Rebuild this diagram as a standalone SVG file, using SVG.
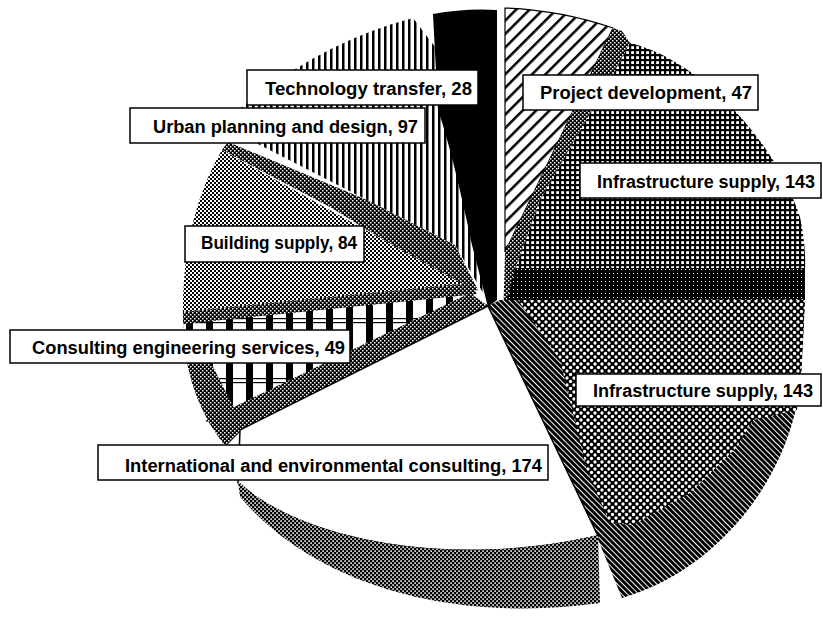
<svg xmlns="http://www.w3.org/2000/svg" width="823" height="617" viewBox="0 0 823 617">
<defs>
<pattern id="pHatch" width="9.5" height="9.5" patternUnits="userSpaceOnUse" patternTransform="rotate(45)"><rect width="9.5" height="9.5" fill="#fff"/><rect width="2.5" height="9.5" fill="#000"/></pattern>
<pattern id="pDots" width="4" height="4" patternUnits="userSpaceOnUse"><rect width="4" height="4" fill="#000"/><rect width="1.5" height="1.5" fill="#fff"/><rect x="2" y="2" width="1.5" height="1.5" fill="#fff"/></pattern>
<pattern id="pGrid" width="5" height="5" patternUnits="userSpaceOnUse"><rect width="5" height="5" fill="#000"/><rect x="1.2" y="1.2" width="2.8" height="2.8" fill="#fff"/></pattern>
<pattern id="pDense" width="4" height="4" patternUnits="userSpaceOnUse"><rect width="4" height="4" fill="#000"/><rect x="1" y="1" width="1" height="1" fill="#fff"/></pattern>
<pattern id="pPolka" width="7" height="7" patternUnits="userSpaceOnUse"><rect width="7" height="7" fill="#000"/><circle cx="0" cy="0" r="1.65" fill="#fff"/><circle cx="7" cy="0" r="1.65" fill="#fff"/><circle cx="0" cy="7" r="1.65" fill="#fff"/><circle cx="7" cy="7" r="1.65" fill="#fff"/><circle cx="3.5" cy="3.5" r="1.65" fill="#fff"/></pattern>
<pattern id="pStripe" width="4" height="4" patternUnits="userSpaceOnUse" patternTransform="rotate(-45)"><rect width="4" height="4" fill="#fff"/><rect width="3" height="4" fill="#000"/></pattern>
<pattern id="pLight" width="4" height="4" patternUnits="userSpaceOnUse"><rect width="4" height="4" fill="#fff"/><rect width="2" height="2" fill="#000"/><rect x="2" y="2" width="2" height="2" fill="#000"/></pattern>
<pattern id="pMid" width="4" height="4" patternUnits="userSpaceOnUse"><rect width="4" height="4" fill="#000"/><rect x="0.3" y="0.3" width="1.6" height="1.6" fill="#fff"/><rect x="2.3" y="2.3" width="1.6" height="1.6" fill="#fff"/></pattern>
<pattern id="pVert" width="6" height="6" patternUnits="userSpaceOnUse"><rect width="6" height="6" fill="#fff"/><rect width="2.5" height="6" fill="#000"/></pattern>
<pattern id="pBars" x="186" y="318" width="20" height="60" patternUnits="userSpaceOnUse"><rect width="20" height="60" fill="#fff"/><rect width="7" height="60" fill="#000"/><rect width="20" height="1.2" fill="#000"/><rect y="4" width="20" height="1.2" fill="#000"/></pattern>
</defs>
<style>
.lbl rect{fill:#fff;stroke:#000;stroke-width:1.5}
.lbl text{font-family:"Liberation Sans",Arial,sans-serif;font-weight:bold;font-size:18px;fill:#000}
</style>
<rect width="823" height="617" fill="#fff"/>
<g id="slice-urban">
<path d="M236,112 Q320,42 413,18 L445,60 L486,298 L455,245 L367,200 L250,140 Z" fill="url(#pVert)"/>
<path d="M228,142 L367,200 L455,245 L478,290 L468,292 L330,207 L222,150 Z" fill="url(#pDots)"/>
</g>
<g id="slice-building">
<path d="M222,150 L468,287 L472,292 L183,320 Q181,220 222,150 Z" fill="url(#pLight)"/>
<path d="M183,312 L470,283 L478,296 L183,328 Z" fill="url(#pDots)"/>
</g>
<g id="slice-consulting">
<path d="M183,324 L478,294 L488,306 L240,430 L225,446 Q188,400 183,324 Z" fill="url(#pBars)"/>
<path d="M183,336 L202,345 L244,428 L226,446 Q190,405 183,336 Z" fill="url(#pDots)"/>
<path d="M205,421 L470,293 L488,306 L240,430 Z" fill="url(#pDots)"/>
</g>
<g id="slice-technology">
<path d="M433,14 Q465,8 497,10 L497,300 L488,307 L472,245 Q452,150 438,110 Z" fill="#000"/>
</g>
<g id="slice-project">
<path d="M505,8 Q560,10 613,28 L505,252 Z" fill="url(#pHatch)" stroke="#000" stroke-width="1.2"/>
<path d="M613,28 L622,31 L630,43 L617,67 L540,200 L515,270 L508,325 L503,325 L505,252 Z" fill="url(#pDots)"/>
</g>
<g id="slice-infra-upper">
<path d="M617,67 L630,43 C700,60 775,140 800,217 Q806,245 805,270 L515,270 L540,200 Z" fill="url(#pGrid)"/>
<path d="M515,268 L805,268 L805,300 L507,300 Z" fill="url(#pDense)"/>
</g>
<g id="slice-infra-lower">
<path d="M500,300 L805,299 L802,360 C800,470 720,570 622,598 L597,537 L488,306 Z" fill="url(#pStripe)"/>
<path d="M518,300 L805,300 L802,360 L797,410 L753,420 L737,447 L690,493 L633,525 L610,523 L587,470 L560,360 Z" fill="url(#pPolka)"/>
</g>
<g id="slice-international">
<path d="M488,306 L240,430 L238,483 C300,540 450,570 598,536 Z" fill="#fff" stroke="#000" stroke-width="1.5"/>
<path d="M238,481 C300,540 450,570 598,535 L600,603 C480,620 330,600 240,497 Z" fill="url(#pMid)"/>
</g>
<g id="label-technology" class="lbl"><rect x="247" y="70" width="231" height="35"/><text x="265" y="95" textLength="207" lengthAdjust="spacingAndGlyphs">Technology transfer, 28</text></g>
<g id="label-urban" class="lbl"><rect x="130" y="108" width="295" height="35"/><text x="153" y="133" textLength="265" lengthAdjust="spacingAndGlyphs">Urban planning and design, 97</text></g>
<g id="label-project" class="lbl"><rect x="523" y="75" width="235" height="35"/><text x="540" y="99" textLength="212" lengthAdjust="spacingAndGlyphs">Project development, 47</text></g>
<g id="label-infra-upper" class="lbl"><rect x="580" y="163" width="241" height="35"/><text x="597" y="188" textLength="218" lengthAdjust="spacingAndGlyphs">Infrastructure supply, 143</text></g>
<g id="label-building" class="lbl"><rect x="185" y="226" width="179" height="36"/><text x="201" y="249" textLength="156" lengthAdjust="spacingAndGlyphs">Building supply, 84</text></g>
<g id="label-consulting" class="lbl"><rect x="10" y="330" width="340" height="33"/><text x="32" y="354" textLength="313" lengthAdjust="spacingAndGlyphs">Consulting engineering services, 49</text></g>
<g id="label-infra-lower" class="lbl"><rect x="576" y="374" width="245" height="32"/><text x="593" y="397" textLength="220" lengthAdjust="spacingAndGlyphs">Infrastructure supply, 143</text></g>
<g id="label-international" class="lbl"><rect x="98" y="445" width="450" height="35"/><text x="125" y="472" textLength="417" lengthAdjust="spacingAndGlyphs">International and environmental consulting, 174</text></g>
</svg>
